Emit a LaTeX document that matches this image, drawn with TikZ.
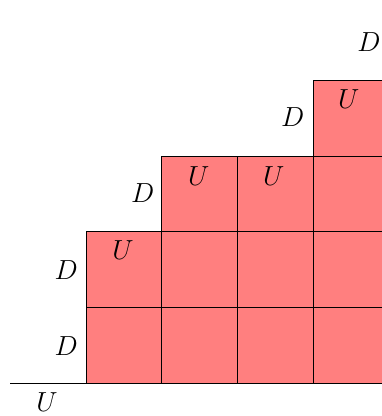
\documentclass[tikz,border=0pt]{standalone}
\usetikzlibrary{positioning}
\definecolor{cellred}{HTML}{FF7F7F}
\tikzset{
  cell/.style = {draw=black, fill=cellred, line width=0.6pt},
  base/.style = {draw=black, line width=0.6pt},
  lbl/.style  = {font=\fontsize{21}{25}\selectfont, inner sep=0pt},
}
\begin{document}
\begin{tikzpicture}[x=2cm,y=2cm]
\useasboundingbox (-1.136,-0.436) rectangle (3.91,5.06);
% cells, column by column
\begin{scope}
\clip (-1.136,-0.436) rectangle (3.91,5.06);
\foreach \c/\h in {0/2,1/3,2/3,3/4}{
  \foreach \r in {1,...,\h}{
    \draw[cell] (\c,\r-1) rectangle ++(1,1);
  }
}
\end{scope}
\coordinate (b0) at (-1,0);
\coordinate (b1) at (0,0);
\draw[base] (b0) -- (b1);
% step labels
\node[lbl] (u0) at (-0.515,-0.25) {$U$};
\node[lbl] (d1) at (-0.26,0.49) {$D$};
\node[lbl] (d2) at (-0.26,1.49) {$D$};
\node[lbl] (u1) at (0.49,1.75) {$U$};
\node[lbl] (d3) at (0.75,2.51) {$D$};
\node[lbl] (u2) at (1.49,2.74) {$U$};
\node[lbl] (u3) at (2.48,2.74) {$U$};
\node[lbl] (d4) at (2.73,3.51) {$D$};
\node[lbl] (u4) at (3.47,3.75) {$U$};
\node[lbl] (d5) at (3.74,4.50) {$D$};
\end{tikzpicture}
\end{document}
